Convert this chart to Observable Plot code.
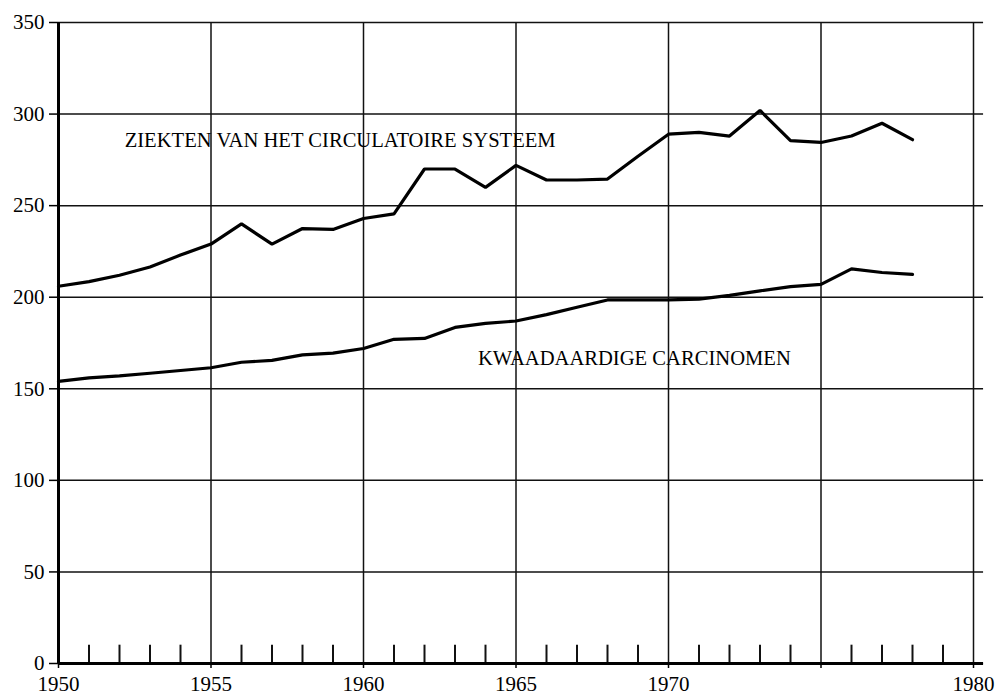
<!DOCTYPE html>
<html>
<head>
<meta charset="utf-8">
<script src="https://cdn.jsdelivr.net/npm/d3@7"></script>
<script src="https://cdn.jsdelivr.net/npm/@observablehq/plot@0.6"></script>
<style>
  html, body { margin: 0; padding: 0; background: #fff; }
</style>
</head>
<body>
<div id="chart"></div>
<script>
const years = [1950,1951,1952,1953,1954,1955,1956,1957,1958,1959,1960,1961,1962,1963,1964,1965,1966,1967,1968,1969,1970,1971,1972,1973,1974,1975,1976,1977,1978];
const circulatory = [206,208.5,212,216.5,223,229,240,229,237.5,237,243,245.5,270,270,260,272,264,264,264.5,277,289,290,288,302,285.5,284.5,288,295,286];
const carcinomen = [154,156,157,158.5,160,161.5,164.5,165.5,168.5,169.5,172,177,177.5,183.5,185.7,187,190.5,194.5,198.5,198.5,198.5,199,201,203.5,205.8,207,215.5,213.5,212.5];

const xTicks = [1950,1955,1960,1965,1970,1975,1980];
const xTickLabels = ["1950","1955","1960","1965","1970","","1980"];
const yTicks = [0,50,100,150,200,250,300,350];
const minorTicks = [1951,1952,1953,1954,1956,1957,1958,1959,1961,1962,1963,1964,1966,1967,1968,1969,1971,1972,1973,1974,1976,1977,1978,1979];

const labelTexts = ["ZIEKTEN VAN HET CIRCULATOIRE SYSTEEM", "KWAADAARDIGE CARCINOMEN"];
const labelX = [1952.17, 1963.75];
const labelY = [285.6, 166.6];

const circData = years.map((y, i) => ({year: y, value: circulatory[i]}));
const carcData = years.map((y, i) => ({year: y, value: carcinomen[i]}));
const labels = labelTexts.map((t, i) => ({text: t, x: labelX[i], y: labelY[i]}));

const chart = Plot.plot({
  width: 1001,
  height: 700,
  marginLeft: 58,
  marginRight: 28,
  marginTop: 22,
  marginBottom: 37,
  x: {domain: [1950, 1980]},
  y: {domain: [0, 350]},
  style: {fontFamily: "'Liberation Serif', 'Times New Roman', serif", fontSize: "21px", color: "#000", background: "#fff"},
  marks: [
    Plot.ruleX(xTicks, {y1: 0, y2: 350, stroke: "#111", strokeWidth: 1.5}),
    Plot.ruleY(yTicks, {x1: 1950, x2: 1980.33, stroke: "#111", strokeWidth: 1.5}),
    Plot.ruleX(minorTicks, {y1: 0, y2: 10, stroke: "#111", strokeWidth: 2}),
    Plot.lineY(circData, {x: "year", y: "value", stroke: "#000", strokeWidth: 3.2, strokeLinejoin: "miter"}),
    Plot.lineY(carcData, {x: "year", y: "value", stroke: "#000", strokeWidth: 3.2, strokeLinejoin: "miter"}),
    Plot.ruleY([0], {x1: 1950, x2: 1980.33, stroke: "#000", strokeWidth: 3}),
    Plot.ruleX([1950], {y1: 0, y2: 350, stroke: "#000", strokeWidth: 3}),
    Plot.axisX({ticks: xTicks, tickFormat: d => xTickLabels[xTicks.indexOf(d)], tickSize: 5, tickPadding: 8, fontSize: 21, stroke: "#000", strokeWidth: 1.5}),
    Plot.axisY({ticks: yTicks, tickSize: 9, tickPadding: 5, fontSize: 21, stroke: "#000", strokeWidth: 1.5}),
    Plot.text(labels, {x: "x", y: "y", text: "text", textAnchor: "start", lineAnchor: "middle", fontSize: 20.6, fill: "#000"})
  ]
});
document.getElementById("chart").appendChild(chart);
</script>
</body>
</html>
